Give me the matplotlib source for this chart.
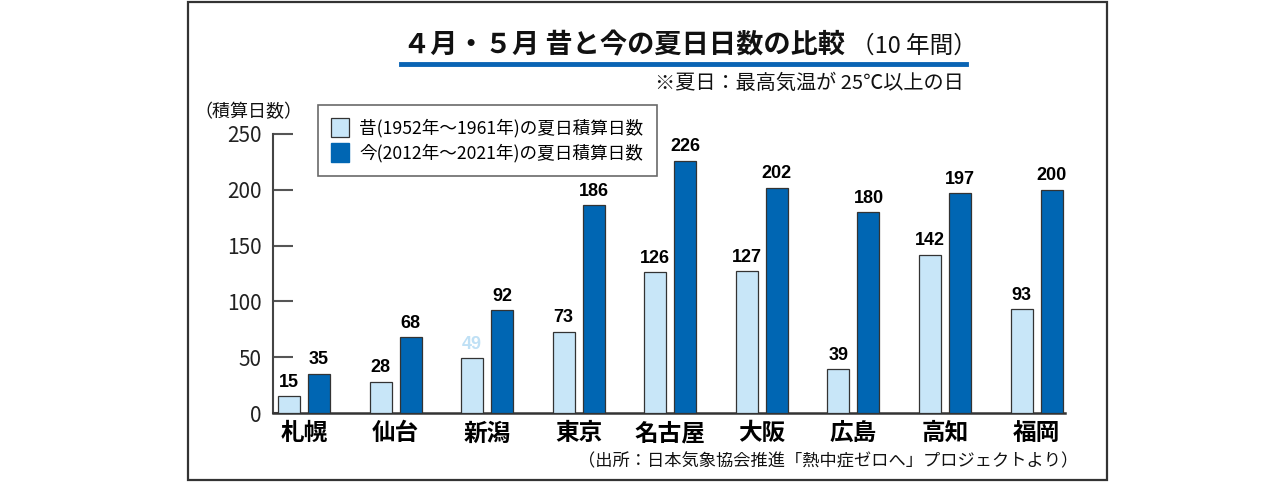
import matplotlib
matplotlib.use("Agg")
import matplotlib.pyplot as plt
from matplotlib.lines import Line2D
from matplotlib.patches import Rectangle, Patch
import numpy as np

plt.rcParams['font.family'] = ['Noto Sans CJK JP', 'DejaVu Sans']

# data
cities = ["札幌", "仙台", "新潟", "東京", "名古屋", "大阪", "広島", "高知", "福岡"]
old_days = [15, 28, 49, 73, 126, 127, 39, 142, 93]
new_days = [35, 68, 92, 186, 226, 202, 180, 197, 200]
old_label = "昔(1952年～1961年)の夏日積算日数"
new_label = "今(2012年～2021年)の夏日積算日数"
yticks = [0, 50, 100, 150, 200, 250]

LIGHT = '#c8e6f8'
DARK = '#0066b3'
EDGE = '#333333'

W, H = 1280, 483
fig = plt.figure(figsize=(W / 100, H / 100), dpi=100)

def fx(px):
	return px / W

def fy(py):
	return 1 - py / H

# outer frame
fig.patches.append(Rectangle((fx(188), fy(480)), fx(1107) - fx(188), fy(2) - fy(480),
	transform=fig.transFigure, fill=False, edgecolor='#333333', lw=1.6))

ax = fig.add_axes([fx(273), fy(413), fx(1065) - fx(273), fy(134) - fy(413)])

x = np.arange(len(cities))
w = 0.24
off = 0.164
b1 = ax.bar(x - off, old_days, w, color=LIGHT, edgecolor=EDGE, lw=0.9, zorder=3)
b2 = ax.bar(x + off, new_days, w, color=DARK, edgecolor=EDGE, lw=0.9, zorder=3)

vfont = ['Liberation Sans', 'DejaVu Sans']
t1 = ax.bar_label(b1, padding=4, fontsize=13, fontweight='bold', family=vfont)
t2 = ax.bar_label(b2, padding=4, fontsize=13, fontweight='bold', family=vfont)
t1[2].set_color('#bfe0f5')

ax.set_xlim(-0.338, 8.31)
ax.set_ylim(0, 250)
ax.set_yticks(yticks)
ax.set_xticks(x)
ax.set_xticklabels(cities, fontsize=17, fontweight='bold')
ax.tick_params(axis='x', length=0, pad=6)
ax.tick_params(axis='y', direction='in', length=14.4, width=1.5, color='#555555', pad=8, labelsize=15)
for lab in ax.get_yticklabels():
	lab.set_color('#222222')

for s in ['top', 'right']:
	ax.spines[s].set_visible(False)
ax.spines['left'].set_color('#444444')
ax.spines['left'].set_linewidth(1.5)
ax.spines['bottom'].set_color('#333333')
ax.spines['bottom'].set_linewidth(1.8)

# legend
handles = [Patch(facecolor=LIGHT, edgecolor=EDGE, lw=0.9), Patch(facecolor=DARK, edgecolor=DARK)]
leg = fig.legend(handles, [old_label, new_label], loc='upper left',
	bbox_to_anchor=(fx(318), fy(105)), fontsize=12.7, frameon=True, fancybox=False,
	edgecolor='#444444', handlelength=1.0, handleheight=1.25, handletextpad=0.6,
	labelspacing=0.33, borderpad=0.75, borderaxespad=0)
leg.get_frame().set_linewidth(1.2)

# titles
fig.text(fx(403), fy(45), "４月・５月 昔と今の夏日日数の比較", fontsize=19.6, fontweight='bold',
	ha='left', va='center', color='#111111')
fig.text(fx(977), fy(46), "（10 年間）", fontsize=17, ha='right', va='center', color='#111111')
fig.lines.append(Line2D([fx(401), fx(966)], [fy(64), fy(64)], transform=fig.transFigure,
	color='#0a64b4', lw=3.5))
fig.text(fx(964), fy(83), "※夏日：最高気温が 25℃以上の日", fontsize=14.5, ha='right', va='center', color='#111111')
fig.text(fx(248), fy(112), "（積算日数）", fontsize=13, ha='center', va='center', color='#111111')
fig.text(fx(1078), fy(461), "（出所：日本気象協会推進「熱中症ゼロへ」プロジェクトより）", fontsize=12.4,
	ha='right', va='center', color='#111111')

fig.savefig("out.png", dpi=100)
